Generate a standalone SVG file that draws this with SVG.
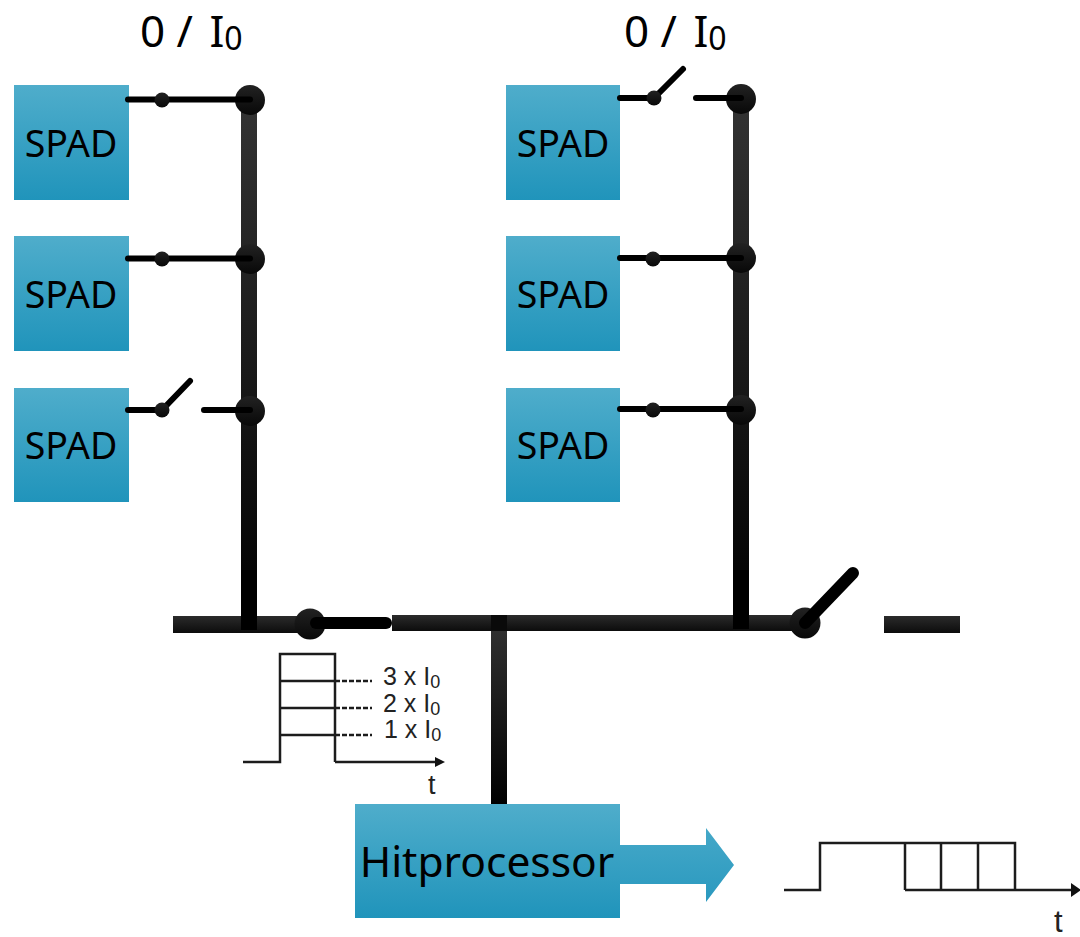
<svg xmlns="http://www.w3.org/2000/svg" width="1080" height="937" viewBox="0 0 1080 937">
<defs>
<linearGradient id="blue" x1="0" y1="0" x2="0" y2="1"><stop offset="0" stop-color="#4fadcb"/><stop offset="1" stop-color="#2094bb"/></linearGradient>
<linearGradient id="arrowBlue" gradientUnits="userSpaceOnUse" x1="0" y1="828" x2="0" y2="902"><stop offset="0" stop-color="#45a8c8"/><stop offset="1" stop-color="#2a99bf"/></linearGradient>
<linearGradient id="busH" x1="0" y1="0" x2="0" y2="1"><stop offset="0" stop-color="#2b2b2b"/><stop offset="1" stop-color="#0c0c0c"/></linearGradient>
<linearGradient id="busV" x1="0" y1="0" x2="0" y2="1"><stop offset="0" stop-color="#333"/><stop offset="1" stop-color="#000"/></linearGradient>
<linearGradient id="dot" x1="0" y1="0" x2="0" y2="1"><stop offset="0" stop-color="#222"/><stop offset="1" stop-color="#080808"/></linearGradient>
</defs>
<style>
.box{fill:url(#blue)}
.spad{font:37.500px "Noto Sans",sans-serif;fill:#000;text-anchor:middle}
.head{font:44px "Noto Sans",sans-serif;fill:#000}
.sub{font-size:32px}
.wire{stroke:#000;stroke-width:6px;stroke-linecap:round;fill:none}
.fat{stroke:#000;stroke-width:12px;stroke-linecap:round;fill:none}
.sig{stroke:#1c1c1c;stroke-width:2.500px;fill:none}
.dash{stroke:#1c1c1c;stroke-width:2.500px;stroke-dasharray:5 2;fill:none}
.small{font:25px "Liberation Sans",sans-serif;fill:#222}
.t{font:31px "Liberation Sans",sans-serif;fill:#222}
.sd{fill:url(#dot)}
</style>
<g id="spad-1"><rect class="box" x="14" y="85" width="115" height="115"/><text class="spad" x="71" y="157">SPAD</text></g>
<g id="spad-2"><rect class="box" x="14" y="236" width="115" height="115"/><text class="spad" x="71" y="308">SPAD</text></g>
<g id="spad-3"><rect class="box" x="14" y="388" width="115" height="114"/><text class="spad" x="71" y="459">SPAD</text></g>
<g id="spad-4"><rect class="box" x="506" y="85" width="114" height="115"/><text class="spad" x="563" y="157">SPAD</text></g>
<g id="spad-5"><rect class="box" x="506" y="236" width="114" height="115"/><text class="spad" x="563" y="308">SPAD</text></g>
<g id="spad-6"><rect class="box" x="506" y="388" width="114" height="114"/><text class="spad" x="563" y="459">SPAD</text></g>
<g id="connectors">
<rect x="241" y="100" width="16" height="530" fill="url(#busV)"/>
<rect x="733" y="99" width="16" height="530" fill="url(#busV)"/>
<rect x="173" y="616" width="137" height="17" fill="url(#busH)"/>
<rect x="392" y="615" width="410" height="16" fill="url(#busH)"/>
<rect x="884" y="616" width="76" height="17" fill="url(#busH)"/>
<rect x="491" y="615" width="16" height="190" fill="url(#busV)"/>
<rect x="491" y="615" width="16" height="16" fill="#0a0a0a"/>
<rect x="241" y="570" width="16" height="60" fill="#000"/>
<rect x="733" y="570" width="16" height="59" fill="#000"/>
<circle class="sd" cx="250" cy="100" r="15"/><circle class="sd" cx="250" cy="259" r="15"/><circle class="sd" cx="250" cy="411" r="15"/>
<circle class="sd" cx="741" cy="99" r="15"/><circle class="sd" cx="741" cy="258" r="15"/><circle class="sd" cx="741" cy="410" r="15"/>
<path class="wire" d="M128 99.500H250"/>
<path class="wire" d="M128 258.500H250"/>
<path class="wire" d="M128 410H162L190 381M204 410H250"/>
<path class="wire" d="M620 98H654L683 69M696 98H741"/>
<path class="wire" d="M620 258H741"/>
<path class="wire" d="M620 409H741"/>
<circle class="sd" cx="162" cy="100" r="7.500"/><circle class="sd" cx="162" cy="259" r="7.500"/><circle class="sd" cx="162" cy="410" r="7.500"/>
<circle class="sd" cx="654" cy="98" r="7.500"/><circle class="sd" cx="653" cy="259" r="7.500"/><circle class="sd" cx="653" cy="410" r="7.500"/>
<circle class="sd" cx="310" cy="624" r="15.500"/>
<path class="fat" d="M316 623H386"/>
<circle class="sd" cx="805" cy="623" r="15.500"/>
<path class="fat" d="M805 623L853 573"/>
</g>
<g id="label-left"><text class="head" x="140" y="47">0 / <tspan dx="5">I</tspan><tspan class="sub" dy="3">0</tspan></text></g>
<g id="label-right"><text class="head" x="624" y="47">0 / <tspan dx="5">I</tspan><tspan class="sub" dy="3">0</tspan></text></g>
<g id="hitprocessor"><rect class="box" x="355" y="804" width="265" height="114"/><text x="487" y="877" font-family="Noto Sans, sans-serif" font-size="42.500" text-anchor="middle" fill="#000">Hitprocessor</text></g>
<g id="output-arrow"><path d="M620 845H706V828L734 865L706 902V884H620Z" fill="url(#arrowBlue)"/></g>
<g id="waveform-levels">
<path class="sig" d="M243 762H280V654H335V762"/>
<path class="sig" d="M280 681H335M280 708H335M280 735H335"/>
<path class="sig" d="M335 762H438"/><path d="M445 762L435 757V767Z" fill="#111"/>
<path class="dash" d="M335 681H372M335 708H372M335 735H372"/>
<text class="small" x="383" y="685">3 x I<tspan font-size="18" dy="3">0</tspan></text>
<text class="small" x="383" y="712">2 x I<tspan font-size="18" dy="3">0</tspan></text>
<text class="small" x="384" y="738">1 x I<tspan font-size="18" dy="3">0</tspan></text>
<text class="t" x="428" y="794" style="font-size:27px">t</text>
</g>
<g id="waveform-output">
<path class="sig" d="M784 890H820V843H1015V890"/>
<path class="sig" d="M905 843V890M941 843V890M978 843V890"/>
<path class="sig" d="M905 890H1072"/><path d="M1081 890L1071 883V897Z" fill="#111"/>
<text class="t" x="1054" y="932">t</text>
</g>
</svg>
